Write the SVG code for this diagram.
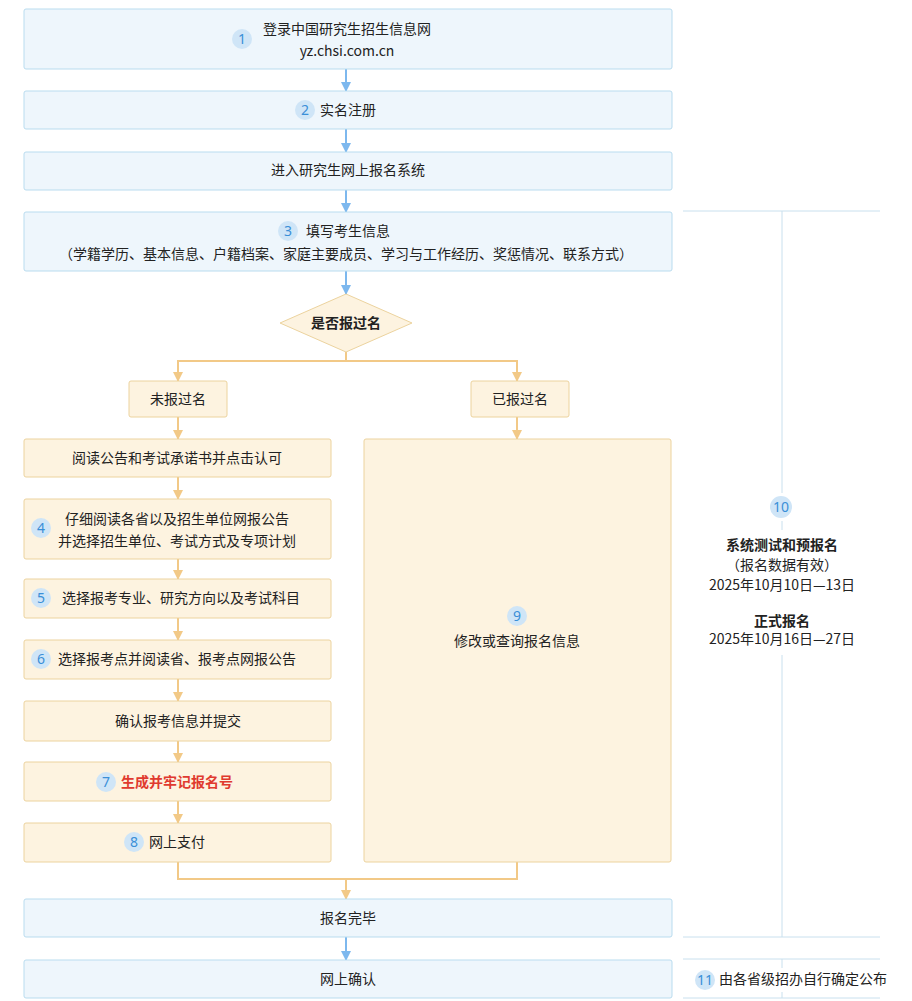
<svg xmlns="http://www.w3.org/2000/svg" width="912" height="1001" viewBox="0 0 912 1001">
<style>
text{font-family:"Noto Sans CJK SC","Noto Sans",sans-serif;font-size:14px;fill:#222;text-anchor:middle}
.b{fill:#eef6fc;stroke:#b9dcef;stroke-width:1}
.o{fill:#fdf3e0;stroke:#ecd39e;stroke-width:1}
.c{fill:#cfe5f7}
.n{fill:#3a8fd8;font-family:"Noto Sans",sans-serif;font-size:14px}
.bl{stroke:#7db8ee;stroke-width:2;fill:none}
.ol{stroke:#f2c987;stroke-width:2;fill:none}
.gl{stroke:#c9e0ee;stroke-width:1;fill:none}
</style>
<defs>
<marker id="ao" markerWidth="10" markerHeight="10" refX="9" refY="5" orient="auto" markerUnits="userSpaceOnUse" viewBox="0 0 10 10"><path d="M0,0 L10,5 L0,10z" fill="#f2c987"/></marker>
<marker id="ab2" markerWidth="10" markerHeight="10" refX="9" refY="5" orient="auto" markerUnits="userSpaceOnUse" viewBox="0 0 10 10"><path d="M0,0 L10,5 L0,10z" fill="#7db8ee"/></marker>
</defs>
<rect width="912" height="1001" fill="#fff"/>
<g id="connectors">
<path class="bl" d="M346 69V91" marker-end="url(#ab2)"/>
<path class="bl" d="M346 129V152" marker-end="url(#ab2)"/>
<path class="bl" d="M346 190V212" marker-end="url(#ab2)"/>
<path class="bl" d="M346 271V294" marker-end="url(#ab2)"/>
<path class="ol" d="M346 352V361M178 381V361H517V381" />
<path class="ol" d="M178 371V381" marker-end="url(#ao)"/>
<path class="ol" d="M517 371V381" marker-end="url(#ao)"/>
<path class="ol" d="M178 417V439" marker-end="url(#ao)"/>
<path class="ol" d="M517 417V439" marker-end="url(#ao)"/>
<path class="ol" d="M178 477V499" marker-end="url(#ao)"/>
<path class="ol" d="M178 559V579" marker-end="url(#ao)"/>
<path class="ol" d="M178 618V640" marker-end="url(#ao)"/>
<path class="ol" d="M178 679V701" marker-end="url(#ao)"/>
<path class="ol" d="M178 741V762" marker-end="url(#ao)"/>
<path class="ol" d="M178 801V823" marker-end="url(#ao)"/>
<path class="ol" d="M178 862V879H517V862M346 879V899" marker-end="url(#ao)"/>
<path class="bl" d="M346 937V960" marker-end="url(#ab2)"/>
<path class="gl" d="M683 211H880M782 211V493M782 521V530M782 655V937M683 937H880M683 959H880M683 998H880M782 959V968M782 992V998"/>
</g>
<g id="n1"><rect class="b" x="24" y="9" width="648" height="60" rx="2"/><circle class="c" cx="242" cy="39" r="10"/><text class="n" x="242" y="44">1</text><text x="347" y="34">登录中国研究生招生信息网</text><text x="347" y="56">yz.chsi.com.cn</text></g>
<g id="n2"><rect class="b" x="24" y="91" width="648" height="38" rx="2"/><circle class="c" cx="305" cy="110" r="10"/><text class="n" x="305" y="115">2</text><text x="348" y="115">实名注册</text></g>
<g id="n3"><rect class="b" x="24" y="152" width="648" height="38" rx="2"/><text x="348" y="175">进入研究生网上报名系统</text></g>
<g id="n4"><rect class="b" x="24" y="212" width="648" height="59" rx="2"/><circle class="c" cx="288" cy="231" r="10"/><text class="n" x="288" y="236">3</text><text x="348" y="236">填写考生信息</text><text x="346" y="259">（学籍学历、基本信息、户籍档案、家庭主要成员、学习与工作经历、奖惩情况、联系方式）</text></g>
<g id="d"><path d="M346 294L412 323L346 352L280 323Z" fill="#fdf3e0" stroke="#ecd39e"/><text x="346" y="328" font-weight="bold">是否报过名</text></g>
<g id="no"><rect class="o" x="129" y="381" width="98" height="36" rx="2"/><text x="178" y="404">未报过名</text></g>
<g id="yes"><rect class="o" x="471" y="381" width="98" height="36" rx="2"/><text x="520" y="404">已报过名</text></g>
<g id="l1"><rect class="o" x="24" y="439" width="307" height="38" rx="2"/><text x="177" y="463">阅读公告和考试承诺书并点击认可</text></g>
<g id="l2"><rect class="o" x="24" y="499" width="307" height="60" rx="2"/><circle class="c" cx="41" cy="528" r="10"/><text class="n" x="41" y="533">4</text><text x="177" y="524">仔细阅读各省以及招生单位网报公告</text><text x="177" y="546">并选择招生单位、考试方式及专项计划</text></g>
<g id="l3"><rect class="o" x="24" y="579" width="307" height="39" rx="2"/><circle class="c" cx="41" cy="598" r="10"/><text class="n" x="41" y="603">5</text><text x="181" y="603">选择报考专业、研究方向以及考试科目</text></g>
<g id="l4"><rect class="o" x="24" y="640" width="307" height="39" rx="2"/><circle class="c" cx="41" cy="659" r="10"/><text class="n" x="41" y="664">6</text><text x="177" y="664">选择报考点并阅读省、报考点网报公告</text></g>
<g id="l5"><rect class="o" x="24" y="701" width="307" height="40" rx="2"/><text x="178" y="726">确认报考信息并提交</text></g>
<g id="l6"><rect class="o" x="24" y="762" width="307" height="39" rx="2"/><circle class="c" cx="106" cy="782" r="10"/><text class="n" x="106" y="787">7</text><text x="177" y="787" style="fill:#e03a2f" font-weight="bold">生成并牢记报名号</text></g>
<g id="l7"><rect class="o" x="24" y="823" width="307" height="39" rx="2"/><circle class="c" cx="134" cy="842" r="10"/><text class="n" x="134" y="847">8</text><text x="177" y="847">网上支付</text></g>
<g id="r9"><rect class="o" x="364" y="439" width="307" height="423" rx="2"/><circle class="c" cx="517" cy="616" r="10"/><text class="n" x="517" y="621">9</text><text x="517" y="646">修改或查询报名信息</text></g>
<g id="n5"><rect class="b" x="24" y="899" width="648" height="38" rx="2"/><text x="348" y="923">报名完毕</text></g>
<g id="n6"><rect class="b" x="24" y="960" width="648" height="38" rx="2"/><text x="348" y="984">网上确认</text></g>
<g id="t10"><circle class="c" cx="781" cy="507" r="11"/><text class="n" x="781" y="512">10</text><text x="782" y="550" font-weight="bold">系统测试和预报名</text><text x="782" y="570">（报名数据有效）</text><text x="782" y="590">2025年10月10日—13日</text><text x="782" y="626" font-weight="bold">正式报名</text><text x="782" y="644">2025年10月16日—27日</text></g>
<g id="t11"><circle class="c" cx="705" cy="980" r="10"/><text class="n" x="705" y="985">11</text><text x="719" y="984" font-size="13" style="text-anchor:start">由各省级招办自行确定公布</text></g>
</svg>
